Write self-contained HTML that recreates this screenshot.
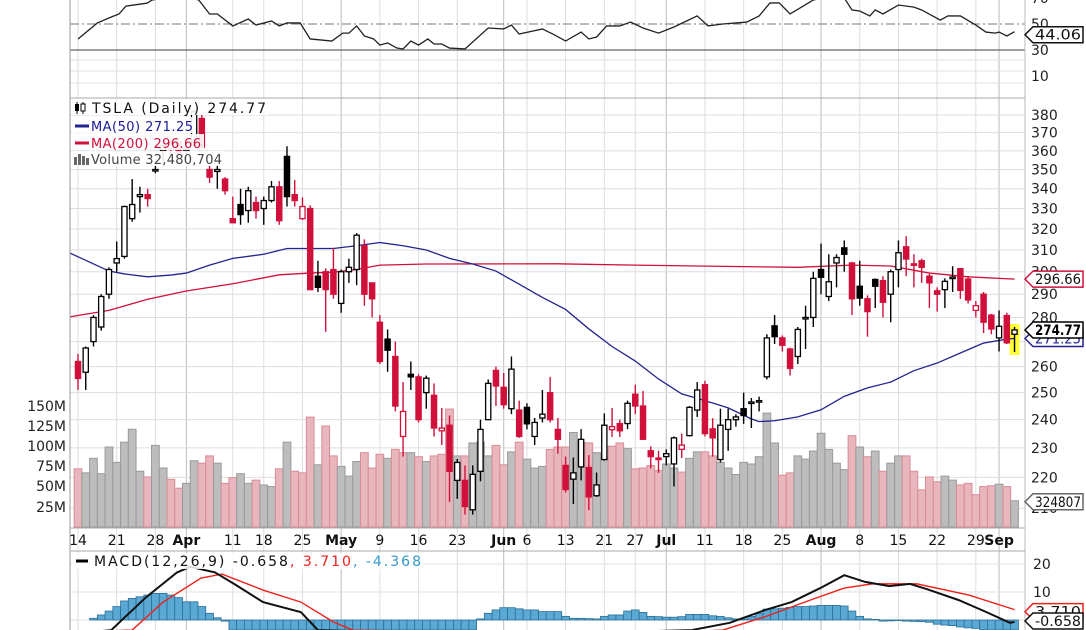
<!DOCTYPE html>
<html><head><meta charset="utf-8">
<style>
html,body{margin:0;padding:0;background:#fff;width:1086px;height:630px;overflow:hidden;}
svg{display:block;font-family:"DejaVu Sans","Liberation Sans",sans-serif;}
</style></head>
<body>
<svg id="chart" width="1086" height="630" viewBox="0 0 1086 630" xmlns="http://www.w3.org/2000/svg">
<defs>
<clipPath id="cRsi"><rect x="70" y="0" width="955" height="98"/></clipPath>
<clipPath id="cPrice"><rect x="70" y="98" width="955" height="430"/></clipPath>
<clipPath id="cMacd"><rect x="70" y="551" width="955" height="79"/></clipPath>
</defs>
<rect x="0" y="0" width="1086" height="630" fill="#fff"/>
<g id="gridV"></g>
<g id="rsiPanel">
  <line x1="70" y1="60" x2="1025" y2="60" stroke="#e2e2e2"/>
  <line x1="70" y1="71" x2="1025" y2="71" stroke="#e2e2e2"/>
  <line x1="70" y1="83" x2="1025" y2="83" stroke="#e2e2e2"/>
  <line x1="70" y1="24" x2="1025" y2="24" stroke="#777" stroke-dasharray="9,3,2,3"/>
  <line x1="70" y1="50" x2="1025" y2="50" stroke="#666" stroke-width="1.2"/>
  <g clip-path="url(#cRsi)"><polyline id="rsiLine" fill="none" stroke="#222" stroke-width="1.3"/></g>
  <text x="1031" y="3" font-size="14" fill="#222">70</text>
  <text x="1031" y="29" font-size="14" fill="#222">50</text>
  <text x="1031" y="55" font-size="14" fill="#222">30</text>
  <text x="1031" y="81" font-size="14" fill="#222">10</text>
</g>
<g id="pricePanel">
  <g id="gridH"></g>
  <g clip-path="url(#cPrice)">
    <g id="volBars"></g>
    <rect id="hilite" fill="#ffff33"/>
    <polyline id="ma200" fill="none" stroke="#d0103a" stroke-width="1.3"/>
    <polyline id="ma50" fill="none" stroke="#23238f" stroke-width="1.3"/>
    <g id="candles"></g>
  </g>
  <g id="priceLabels"></g>
  <g font-size="14" fill="#222" text-anchor="end">
    <text x="66" y="411">150M</text>
    <text x="66" y="431">125M</text>
    <text x="66" y="451">100M</text>
    <text x="66" y="471">75M</text>
    <text x="66" y="491">50M</text>
    <text x="66" y="512">25M</text>
  </g>
  <g>
    <rect x="72" y="99" width="196" height="16" fill="#fff" fill-opacity="0.9"/>
    <rect x="72" y="117" width="124" height="16" fill="#fff" fill-opacity="0.9"/>
    <rect x="72" y="134" width="132" height="16" fill="#fff" fill-opacity="0.9"/>
    <rect x="72" y="151" width="152" height="15" fill="#fff" fill-opacity="0.9"/>
    <g>
      <line x1="77" y1="102" x2="77" y2="114" stroke="#000"/><rect x="75" y="104" width="4" height="7" fill="#000"/>
      <line x1="83" y1="102" x2="83" y2="114" stroke="#000"/><rect x="81" y="104" width="4" height="7" fill="#fff" stroke="#000"/>
    </g>
    <text x="92" y="113" font-size="14" fill="#111" textLength="174">TSLA (Daily) 274.77</text>
    <line x1="75" y1="126" x2="89" y2="126" stroke="#23238f" stroke-width="3"/>
    <text x="91" y="131" font-size="13" fill="#1a1a99" textLength="102">MA(50) 271.25</text>
    <line x1="75" y1="143" x2="89" y2="143" stroke="#d0103a" stroke-width="3"/>
    <text x="91" y="148" font-size="13" fill="#d0103a" textLength="110">MA(200) 296.66</text>
    <g fill="#666">
      <rect x="74" y="157" width="3" height="8"/><rect x="78" y="154" width="3" height="11"/><rect x="82" y="156" width="3" height="9"/><rect x="86" y="158" width="3" height="7"/>
    </g>
    <text x="91" y="164" font-size="13" fill="#444" textLength="131">Volume 32,480,704</text>
  </g>
</g>
<g id="xLabels"></g>
<g id="macdPanel">
  <line x1="70" y1="564" x2="1025" y2="564" stroke="#e2e2e2"/>
  <line x1="70" y1="592" x2="1025" y2="592" stroke="#e2e2e2"/>
  <line x1="70" y1="620" x2="1025" y2="620" stroke="#e2e2e2"/>
  <g clip-path="url(#cMacd)">
    <g id="hist"></g>
    <polyline id="sigLine" fill="none" stroke="#f0201a" stroke-width="1.4"/>
    <polyline id="macdLine" fill="none" stroke="#111" stroke-width="2"/>
  </g>
  <rect x="72" y="553" width="352" height="16" fill="#fff" fill-opacity="0.85"/>
  <line x1="76" y1="561" x2="88" y2="561" stroke="#000" stroke-width="3"/>
  <text x="94" y="566" font-size="14" textLength="327"><tspan fill="#111">MACD(12,26,9) -0.658</tspan><tspan fill="#f0201a">, 3.710</tspan><tspan fill="#3399cc">, -4.368</tspan></text>
  <text x="1033" y="569" font-size="14" fill="#222">20</text>
  <text x="1033" y="597" font-size="14" fill="#222">10</text>
</g>
<g fill="none">
  <line x1="70" y1="0" x2="70" y2="630" stroke="#999"/>
  <line x1="1025" y1="0" x2="1025" y2="630" stroke="#bbb"/>
  <line x1="70" y1="98" x2="1025" y2="98" stroke="#aaa"/>
  <line x1="70" y1="528" x2="1025" y2="528" stroke="#aaa"/>
  <line x1="70" y1="551" x2="1025" y2="551" stroke="#aaa"/>
</g>
<g id="tags"></g>
</svg>
<script>
// ---- data ----
const opens  = [262,257.8,270,276,290,304,307,325,336,337,349.8,360,361,365,360,363,378,350,349,345,325,332,329,333,330,334,341,357,337,325,330,298,300,301,286,300,301,312,295,278,271,264,234,257,256,250,249,236,238,219,219,209.5,222,240,258.5,252,244,243.5,244.5,234,240.6,250,236.5,224,219.4,223.5,223.3,214,226,236.4,238.6,238.6,249.4,245,229,226.5,227,224.5,229.5,234.3,243.5,253,236.7,226,236.5,240,244,246,246.5,256,276.5,271.5,267,264,279.5,280,301,289,304,311,304,293.5,288,296.5,296,290,301,311.5,303.6,305,298,291.5,292,297,301.4,296.7,283,290,281,271.5,280.8,273];
const highs  = [265,268,281,290,302,314,331.5,345,341,340,352,365,367,367,367,383,380,352,352,346,336,340,341,336,336,344,344,362.5,344.5,335.6,331.6,305,301.5,311,301,306,318,315,295,281,275,270,254,262,257,256.5,253.5,244.3,241.5,226.2,224,224,240,255,260,257.5,264,247,246,240.6,251,256,240.6,227,226.7,236.6,227.5,221.6,242.3,244.3,240,247,253,250.6,230.5,229,229.5,234,235,245,254,254.5,240.5,244,244,242,250,248,248.5,273,281,272.5,267.5,276,285,300,313,308,308,314.5,304.5,305,289.5,297,298,301,314.5,316.5,308,306,299,293,297,302.5,301.6,298,287,291,281.5,283,282,276];
const lows   = [251,251,268,274.5,288,300,306,323.5,328,331,348,352,357,358,355,362,361,343,340,337,323,322,323,325,322,333,322,331,331,324.4,292,291,274,288,282,295,294,285,280,261,258,243,227,251,239,244,234,231,212,213,208,208,218.7,240,245,244,242,233.5,236.5,231,239,239,228,215,211.3,219,209.4,213.6,225.6,233.8,233.8,236.6,242,232.9,223,221.5,224,217,226.5,234,241,234,227,225,229,237.5,238.5,237,243,255,269,266,256.5,261,267,276,290,287,293,300,281,285,272,284,280,278,293,298,293,295,284,282.5,284,291,288,286,280,273.5,273,266,269,265.8];
const closes = [255.4,267.4,280,289,301,306,331,332,337,335,350,363,364,359,361,382,362,346,350,339,323,327,339,329,334,341,324,336,334,331,292,293,292,290,300,302,317,290,288,262,266.5,245,243,256,240,255.5,237,237,222,225,210.5,221,236.5,253.5,252.5,245.5,259,234,238.5,239,242,240,233,216,221.5,233,213.6,217.5,238,237.5,236,246,245,233,227,226,228,233.5,231,244.5,251,235,233.5,238,240,241,241.5,246.5,247,271.5,272,268.5,259.3,275,280,297,297.5,295.5,306.5,308,288,288.3,282.5,293.5,286.5,300,308.7,305.8,303,302,295,290,295.7,297.6,291.7,287.5,285,278,275.2,276.3,269.5,274.77];
const dirs   = ['r','k','k','k','k','k','k','k','k','r','k','k','r','r','k','k','r','r','k','r','r','k','k','r','k','k','r','k','r','r','r','k','r','r','k','k','k','r','r','r','k','r','r','k','r','k','r','r','r','k','r','k','k','k','r','r','k','r','k','k','k','r','r','r','k','k','r','k','k','r','r','k','r','r','r','r','k','k','r','k','k','r','r','k','k','k','k','k','k','k','k','r','r','k','k','k','k','k','k','k','r','k','r','k','r','k','k','r','r','r','r','r','k','k','r','r','r','r','r','k','r','k'];
const volumes = [72,67,85,66,99,80,105,121,69,62,101,73,59,48,54,82,79,88,79,54,61,66,54,58,52,50,72,105,69,67,136,77,125,88,75,63,81,92,73,90,85,96,92,92,87,81,88,90,146,88,88,104,105,88,101,77,93,105,84,73,75,96,99,99,117,105,104,92,87,100,104,97,72,73,76,70,78,73,68,85,93,93,88,80,73,65,80,78,87,141,104,64,67,88,84,94,116,96,79,71,113,99,87,94,69,79,88,88,69,46,62,56,63,58,52,54,40,50,51,53,50,32.48];
const ma50Idx = [-1,4,6,9,12,14,17,20,24,27,30,33,36,39,42,45,48,51,54,57,60,63,66,69,72,75,78,81,84,87,88,90,93,96,99,102,105,108,111,114,117,120,121];
const ma50Val = [308.5,300.3,299,297.7,298.5,299.4,303,306.1,308,310.7,310.7,310.7,312,313.5,312,310,306.1,303.5,300.3,294.4,288.6,283.4,275.2,268,262.2,255.2,249.5,247,244.3,240.3,239.3,239.6,241,243.6,248.6,251.8,254,258.4,261.4,265.4,269.4,271,271.25];
const ma200Idx = [-1,4,9,14,20,26,30,33,36,39,45,62,72,80,93,100,105,110,115,121];
const ma200Val = [280.3,283,287.8,291.4,294.6,298.6,299.4,299.8,301,303,303.5,303.6,303,302.6,302,303,302.6,299.4,297.7,296.66];
const rsiIdx = [0,2.5,4.3,5.3,6.2,8.9,9.6,12,14,15.6,17,18,20,22,23,25,26,27,28.7,30,32.8,34.2,35,36,37,38.2,39,40,41.2,42,43,44,45.2,46,47,48,50,53,55,56,57,60,61.6,63,65,66,67,68.3,70,71.4,73,75,77,80,81.4,83.3,86.4,88,89.4,90.6,92,93.7,95,97,99,100,101,102.3,103,104,106,108,109,111.4,112.4,114,116,117.3,118.5,119,120,121];
const rsiVal = [38.5,50.8,55.4,57.7,63.8,66,68.5,76,74,68.5,57.7,57.7,48.5,53.8,49.2,52.3,48.5,50.8,50.8,38.5,36.9,43,43,48.5,40.8,38.5,33.8,35.4,31.5,30.8,36.9,33.8,38.5,34.6,34.6,31.5,30.8,46.9,46.2,49.2,42.3,46.2,41.5,36.9,43.8,38.5,40,48.5,48.5,51.5,46.9,43,47.7,56.2,48.5,50,51.5,56.2,66.2,66.2,57.7,63.8,68.5,75,70,60.8,60,56.2,60.8,57.7,64.6,63,60.8,53,56.2,56.2,49.2,43.8,43,43.8,40.8,44.06];
const macdIdx = [0,2,4.3,8.7,12.8,14.5,17.7,20.4,23.9,28.8,31,40,50,60,70,79.3,84.2,88.8,92.2,95.9,99,101.7,104.8,107.5,109.7,113.8,117.3,120.4,121];
const macdVal = [-15,-9,-3.6,7.9,17,19,17,12.5,6.4,2.8,-3.6,-12,-14,-8,-5,-3.6,-1,3.6,6.4,11.4,16,13.6,12.1,12.9,11,7.1,2.9,-1,-0.658];
const sigIdx = [0,7,11,15.9,18.6,23.9,28.8,33,35.5,50,65,78,83.3,88.8,94.6,99,102.6,108.4,115.1,121];
const sigVal = [-12,-3.6,6.4,15,16.4,10.7,6.4,-0.7,-3.6,-10,-8,-5,-3.6,1.2,7.1,11.4,12.9,12.9,8.9,3.71];
const histVals = [0,0,0.6,1.8,3.2,4.8,6.8,7.7,8.3,8.9,9.5,9.5,8.9,8,6.5,6.5,4.8,2.4,0.8,-0.4,
 -4,-5,-6,-6.5,-7,-7,-7,-7,-7,-7,-7,-6.5,-6,-6,-6,-6,-5.5,-5.5,-5,-5,-5,-5,-4.5,-4.5,-4.5,-4,-4,-4,-4,-4,-4,-3.8,
 0.4,2.4,3.6,4.4,4.4,4,3.6,3.6,3,3,3,1.3,0.6,0.6,0.5,0.4,1.3,1.8,1.8,3.2,3.6,2.7,1.3,1.2,1,1,1.2,2,2,2,1.5,1.3,0.8,0.4,0.4,1.3,2.4,3.9,4,4.2,4.5,4.8,4.8,5,5.2,5.2,5.2,5,3.2,1.3,0.4,0.2,-0.4,-0.3,-0.2,-0.4,-0.5,-0.6,-0.8,-1.5,-1.8,-2,-2.5,-2.8,-3,-3.5,-3.8,-4,-4.2,-4.37];
const gridIdx = [0,5,10,14,20,24,29,34,39,44,49,55,58,63,68,72,76,81,86,91,96,101,106,111,116,119];
const gridLabels = ['14','21','28','Apr','11','18','25','May','9','16','23','Jun','6','13','21','27','Jul','11','18','25','Aug','8','15','22','29','Sep'];
const monthLabels = ['Apr','May','Jun','Jul','Aug','Sep'];
const priceTicks = [210,220,230,240,250,260,270,280,290,300,310,320,330,340,350,360,370,380];
const lastRsi = 44.06, lastMa50 = 271.25, lastMa200 = 296.66, lastClose = 274.77, lastVolume = 32480704, lastSignal = 3.710, lastMacd = -0.658;

// ---- axis functions ----
const xi = i => 78 + 7.74*i;
const yP = p => 115 + 663*Math.log(380/p);
const yV = v => 527 - 0.808*v;
const yR = v => 24 + (50 - v)*1.3;
const yM = v => 620 - 2.8*v;
const clampY = (y,lo,hi) => Math.max(lo, Math.min(hi, y));
const NS = 'http://www.w3.org/2000/svg';
function mk(tag, attrs, parent){ const e=document.createElementNS(NS,tag); for(const k in attrs) e.setAttribute(k,attrs[k]); parent.appendChild(e); return e; }
const RED='#d0103a', BLK='#000';

const gv=document.getElementById('gridV'), xl=document.getElementById('xLabels');
gridIdx.forEach((gi,k)=>{
  const isM = monthLabels.includes(gridLabels[k]);
  const ln = mk('line',{x1:xi(gi),x2:xi(gi),y1:0,y2:630,stroke:isM?'#bcbcbc':'#dedede'},gv);
  
  
  const t = mk('text',{x:xi(gi),y:545,'text-anchor':'middle','font-size':14,fill:'#111','font-weight':isM?'bold':'normal'},xl);
  t.textContent = gridLabels[k];
  
  
});
const gh=document.getElementById('gridH'), pl=document.getElementById('priceLabels');
priceTicks.forEach(p=>{
  const ln = mk('line',{x1:70,x2:1025,y1:yP(p),y2:yP(p),stroke:'#dedede'},gh);
  
  
  const t = mk('text',{x:1031,y:yP(p)+5,'font-size':14,fill:'#222'},pl);
  t.textContent = p;
  
  
});
const vb=document.getElementById('volBars');
volumes.forEach((v,i)=>{
  const up = dirs[i]==='k';
  const r = mk('rect',{x:xi(i)-3.87,y:yV(v),width:7.74,height:527-yV(v),fill:up?'#bdbdbd':'#e8b6bc',stroke:up?'#9a9a9a':'#d98c96','stroke-width':1},vb);
  
  
});
const hl=document.getElementById('hilite'); const L=closes.length-1;
hl.setAttribute('x',xi(L)-5); hl.setAttribute('width',10);
hl.setAttribute('y',yP(Math.max(highs[L],opens[L],closes[L]))-3); hl.setAttribute('height',yP(lows[L])-yP(highs[L])+6);
document.getElementById('ma50').setAttribute('points',ma50Idx.map((d,k)=>xi(d)+','+yP(ma50Val[k])).join(' '));
document.getElementById('ma200').setAttribute('points',ma200Idx.map((d,k)=>xi(d)+','+yP(ma200Val[k])).join(' '));
const cg=document.getElementById('candles');
closes.forEach((c,i)=>{
  const o=opens[i], col = dirs[i]==='r'?RED:BLK, x=xi(i);
  const w = mk('line',{x1:x,x2:x,y1:yP(highs[i]),y2:yP(lows[i]),stroke:col,'stroke-width':1.4},cg);
  
  
  const top=yP(Math.max(o,c)), bot=yP(Math.min(o,c));
  const hollow = c>=o;
  const b = mk('rect',{x:x-2.6,y:top,width:5.2,height:Math.max(1.5,bot-top),fill:hollow?'#fff':col,stroke:col,'stroke-width':1.3},cg);
  
  
});
document.getElementById('rsiLine').setAttribute('points',rsiIdx.map((d,k)=>xi(d)+','+clampY(yR(rsiVal[k]),-3,98)).join(' '));
const hg=document.getElementById('hist');
histVals.forEach((v,i)=>{
  const y0=yM(0), y1=clampY(yM(v),551,630);
  const r = mk('rect',{x:xi(i)-3.87,y:Math.min(y0,y1),width:7.74,height:Math.abs(y1-y0),fill:'#5aa8d4',stroke:'#2b6f96','stroke-width':0.8},hg);
  
  
});
document.getElementById('macdLine').setAttribute('points',macdIdx.map((d,k)=>xi(d)+','+clampY(yM(macdVal[k]),551,632)).join(' '));
document.getElementById('sigLine').setAttribute('points',sigIdx.map((d,k)=>xi(d)+','+clampY(yM(sigVal[k]),551,632)).join(' '));
const tg=document.getElementById('tags');
function tag(y, txt, stroke, color, bold, name){
  const g = mk('g',{},tg);
  
  
  mk('polygon',{points:`1025,${y} 1033,${y-8} 1083,${y-8} 1083,${y+8} 1033,${y+8}`,fill:'#fff',stroke:stroke,'stroke-width':1.5},g);
  const t=mk('text',{x:1035,y:y+5,'font-size':14,fill:color,'font-weight':bold?'bold':'normal',textLength:46,lengthAdjust:'spacingAndGlyphs'},g);
  t.textContent=txt;
}
tag(yR(lastRsi)+3,lastRsi.toFixed(2),'#111','#111',false,'rsi-value-tag');
tag(yP(lastMa200),lastMa200.toFixed(2),RED,'#111',false,'ma200-value-tag');
tag(yP(lastMa50),lastMa50.toFixed(2),'#23238f','#23238f',false,'ma50-value-tag');
tag(yP(lastClose),lastClose.toFixed(2),'#000','#000',true,'close-value-tag');
tag(yV(lastVolume/1e6)+1,String(lastVolume).slice(0,6),'#666','#111',false,'volume-value-tag');
tag(Math.min(yM(lastSignal)+2,612),lastSignal.toFixed(3),'#f0201a','#111',false,'signal-value-tag');
tag(Math.min(yM(lastMacd)+3,621),lastMacd.toFixed(3),'#111','#111',false,'macd-value-tag');
</script>
</body></html>
